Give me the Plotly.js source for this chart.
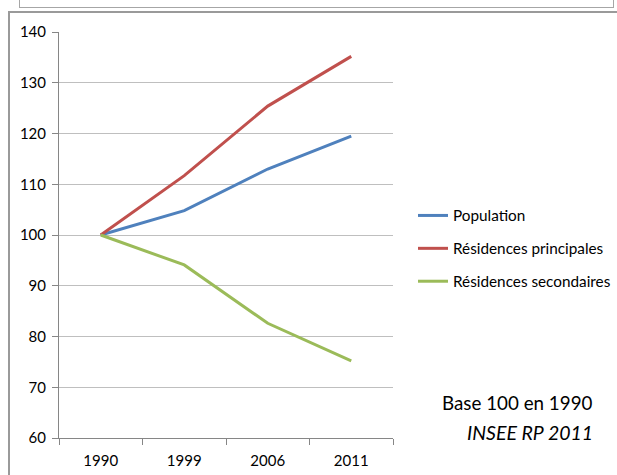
<!DOCTYPE html>
<html>
<head>
<meta charset="utf-8">
<script src="https://cdn.plot.ly/plotly-3.0.1.min.js"></script>
<style>
  html, body { margin: 0; padding: 0; background: #ffffff; }
  #wrap { position: relative; width: 617px; height: 475px; overflow: hidden; }
  /* surrounding frames of the report layout */
  #frameTop { position: absolute; left: 19px; top: -10px; width: 593px; height: 16px;
              border: 1px solid #a6a6a6; box-sizing: content-box; }
  #frameMain { position: absolute; left: 8px; top: 11px; width: 640px; height: 500px;
               border: 2px solid #9a9a9a; }
  #chart { position: absolute; left: 0; top: 0; width: 617px; height: 475px; }
</style>
</head>
<body>
<div id="wrap">
  <div id="frameTop"></div>
  <div id="frameMain"></div>
  <div id="chart"></div>
</div>
<script>
// Census years (categories)
const years = ['1990', '1999', '2006', '2011'];

// Index values, base 100 in 1990
const population = [100, 104.8, 113.0, 119.5];
const residencesPrincipales = [100, 111.7, 125.4, 135.2];
const residencesSecondaires = [100, 94.1, 82.6, 75.2];

const seriesNames = ['Population', 'Résidences principales', 'Résidences secondaires'];
const seriesColors = ['#4f81bd', '#c0504d', '#9bbb59'];
const seriesValues = [population, residencesPrincipales, residencesSecondaires];

const yTicks = [60, 70, 80, 90, 100, 110, 120, 130, 140];

const FONT = 'Lato, "Open Sans", sans-serif';

const traces = seriesValues.map((vals, i) => ({
  type: 'scatter',
  mode: 'lines',
  x: years,
  y: vals,
  name: seriesNames[i],
  legendgroup: 'g' + i,
  line: { color: seriesColors[i], width: 3 },
  hoverinfo: 'x+y+name'
}));

// plot area in pixels: left 59, right 393, top 32, bottom 438
const L = 59, R = 393, T = 32, B = 438, W = 617, H = 475;
const px = x => (x - L) / (R - L);
const py = y => (B - y) / (B - T);

const layout = {
  width: W,
  height: H,
  margin: { l: L, r: W - R, t: T, b: H - B, pad: 0, autoexpand: false },
  paper_bgcolor: 'rgba(0,0,0,0)',
  plot_bgcolor: 'rgba(0,0,0,0)',
  font: { family: FONT, size: 15, color: '#000000' },
  showlegend: true,
  legend: {
    x: px(413), y: py(199), xanchor: 'left', yanchor: 'top',
    bgcolor: 'rgba(0,0,0,0)',
    font: { family: FONT, size: 15.3, color: '#000000' },
    tracegroupgap: 10
  },
  xaxis: {
    type: 'category',
    range: [-0.5, 3.5],
    showgrid: false,
    showline: true,
    linecolor: '#868686',
    linewidth: 1,
    ticks: 'outside',
    tickson: 'boundaries',
    ticklen: 6,
    tickcolor: '#868686',
    ticklabelstandoff: 9,
    tickfont: { family: FONT, size: 15, color: '#000000' },
    zeroline: false,
    fixedrange: true
  },
  yaxis: {
    range: [60, 140],
    tickvals: yTicks,
    ticktext: yTicks.map(String),
    showgrid: true,
    gridcolor: '#bfbfbf',
    gridwidth: 1,
    showline: true,
    linecolor: '#868686',
    linewidth: 1,
    ticks: 'outside',
    ticklen: 6,
    tickcolor: '#868686',
    ticklabelstandoff: 3,
    tickfont: { family: FONT, size: 15, color: '#000000' },
    zeroline: false,
    fixedrange: true
  },
  annotations: [
    {
      xref: 'paper', yref: 'paper',
      x: px(595), y: py(402), xanchor: 'right', yanchor: 'middle',
      text: 'Base 100 en 1990', showarrow: false,
      font: { family: FONT, size: 18.8, color: '#000000' }
    },
    {
      xref: 'paper', yref: 'paper',
      x: px(595), y: py(432), xanchor: 'right', yanchor: 'middle',
      text: '<i>INSEE RP 2011</i>', showarrow: false,
      font: { family: FONT, size: 19.5, color: '#000000' }
    }
  ]
};

Plotly.newPlot('chart', traces, layout, { displayModeBar: false, staticPlot: true });
</script>
</body>
</html>
